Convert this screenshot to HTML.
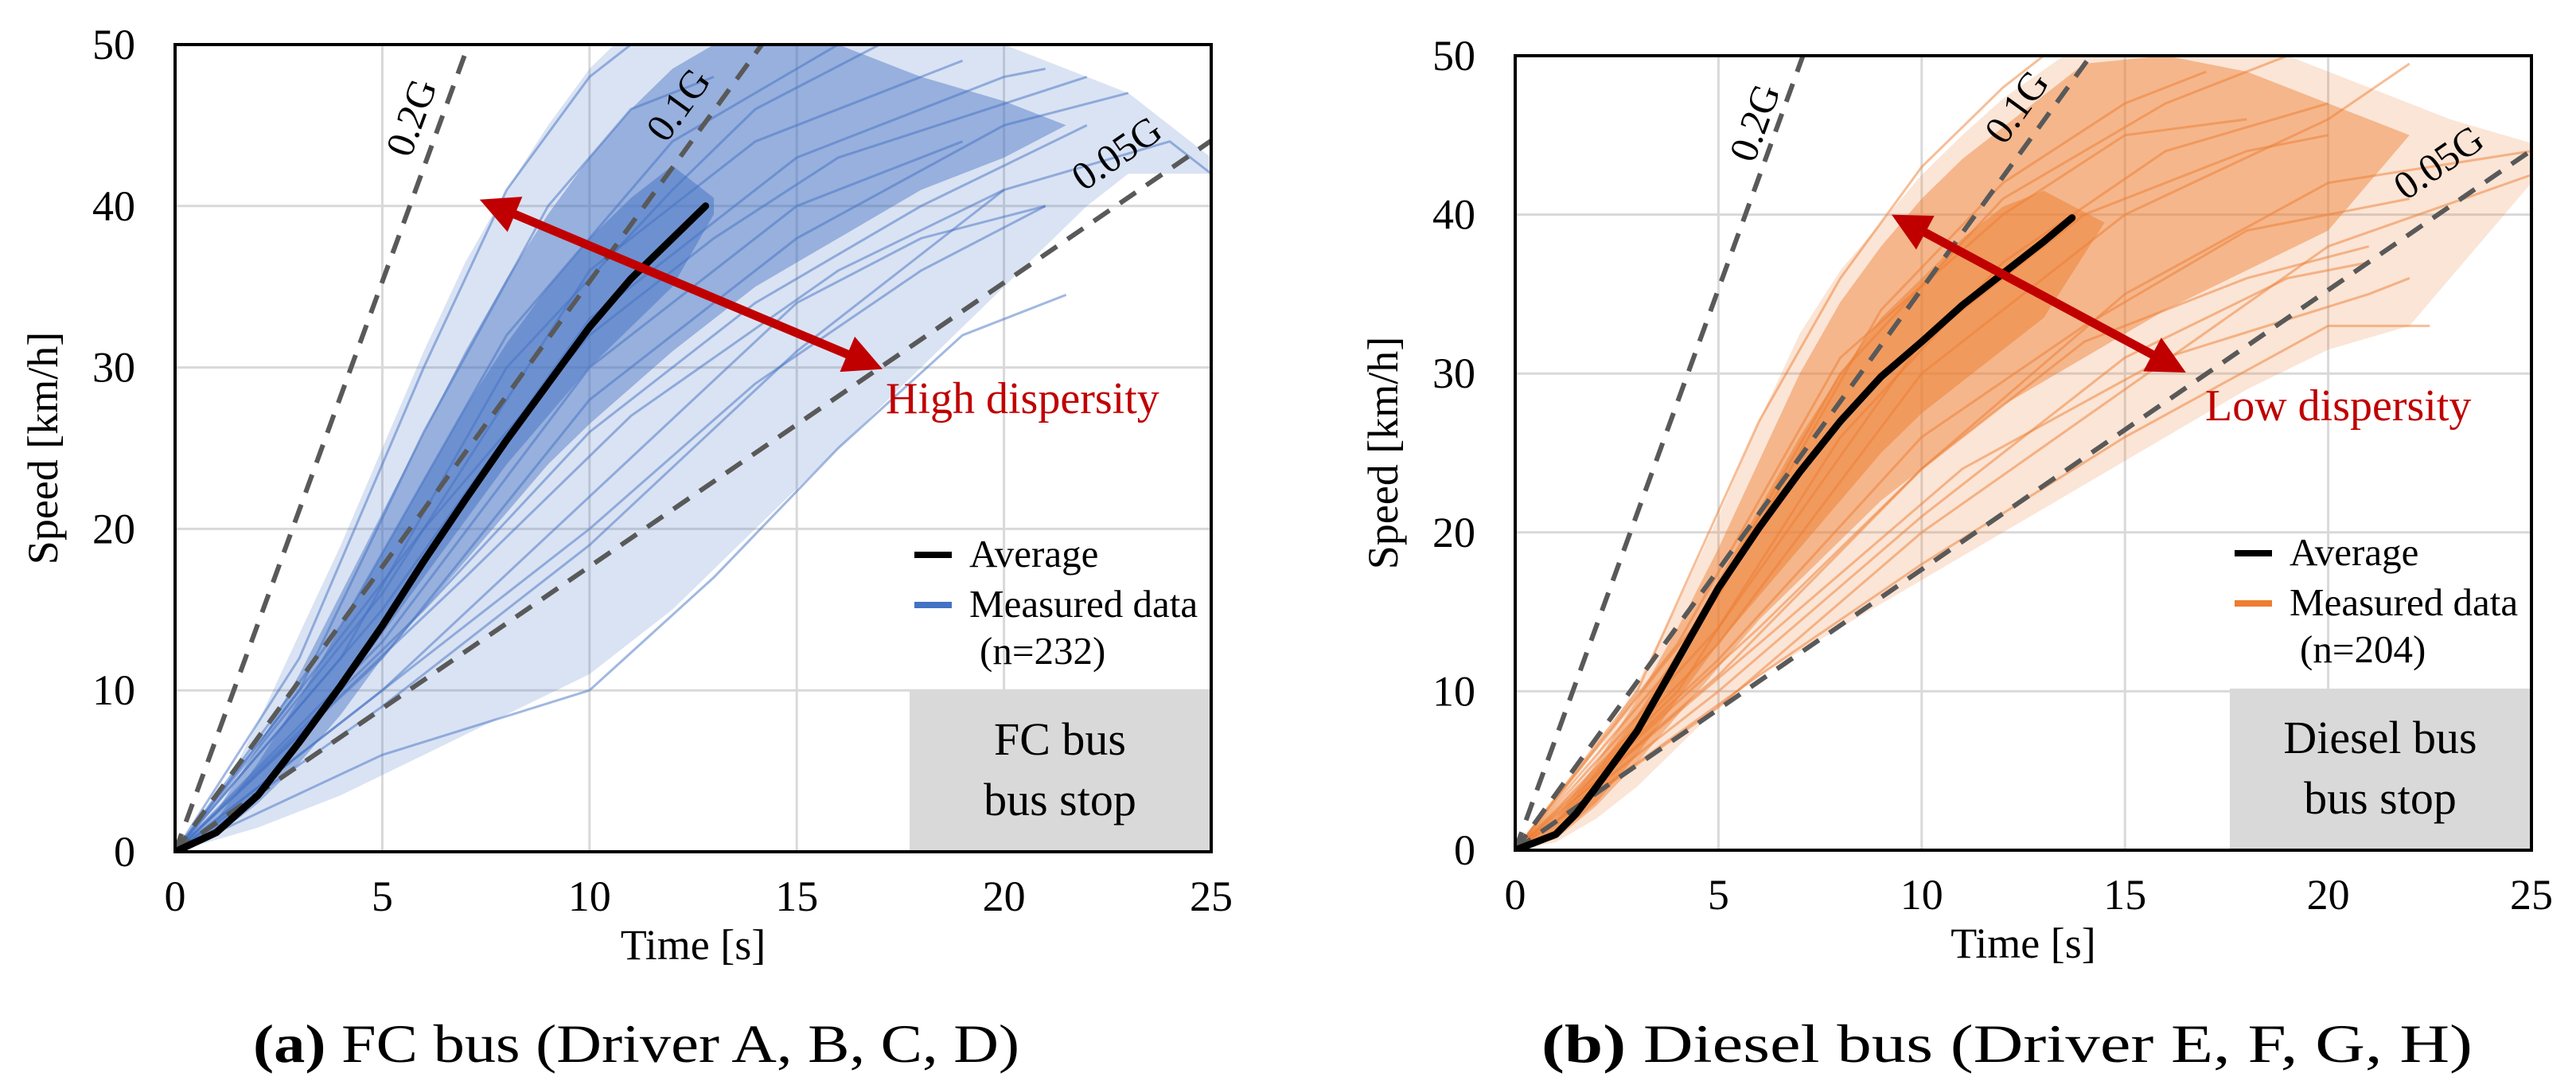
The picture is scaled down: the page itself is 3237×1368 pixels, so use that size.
<!DOCTYPE html>
<html><head><meta charset="utf-8"><style>
html,body{margin:0;padding:0;background:#fff;}
svg{display:block;font-family:"Liberation Serif",serif;}
</style></head><body>
<svg id="fig" width="3237" height="1368" viewBox="0 0 3237 1368" xmlns="http://www.w3.org/2000/svg">
<defs>
<clipPath id="clipA"><rect x="220" y="56" width="1302" height="1014"/></clipPath>
<clipPath id="clipB"><rect x="1904" y="70" width="1277" height="998"/></clipPath>
</defs>
<text x="318" y="1334" font-size="68" font-family="Liberation Serif, serif" textLength="963" lengthAdjust="spacingAndGlyphs"><tspan font-weight="bold">(a)</tspan> FC bus (Driver A, B, C, D)</text>
<text x="1937" y="1334" font-size="68" font-family="Liberation Serif, serif" textLength="1170" lengthAdjust="spacingAndGlyphs"><tspan font-weight="bold">(b)</tspan> Diesel bus (Driver E, F, G, H)</text>
</svg>
<script>
// ---- shared axis ticks ----
const xTicks = [0, 5, 10, 15, 20, 25];
const yTicks = [0, 10, 20, 30, 40, 50];
const gLevels = [0.2, 0.1, 0.05];
const gLabels = ["0.2G", "0.1G", "0.05G"];

// ---- FC bus (left) ----
const fcAvgT = [0,1,2,3,4,5,6,7,8,9,10,11,12,12.8];
const fcAvgV = [0,1.2,3.5,6.8,10.3,14,18,21.8,25.5,29,32.5,35.5,38,40];
const fcOuterUpT = [0,1,2,3,4,5,6,7,8,9,10,10.6,20,23,25];
const fcOuterUpV = [0,3,8,13.5,19,25,31,36.5,41,45,48.5,50,50,47,43];
const fcOuterLoT = [0,2,4,6,8,10,12,14,16,18,20,22,23,25];
const fcOuterLoV = [0,1.5,3.5,6,8.5,11,15,20,25,30,35,40,42,42];
const fcCoreUpT = [0,1,2,3,4,5,6,7,8,9,10,11,12,13,16,18,20,21.5];
const fcCoreUpV = [0,2.5,6.5,11,16,21,26,31,35.5,39.5,43,46,48.5,50,50,48,46.5,45];
const fcCoreLoT = [0,1,2,3,4,5,6,7,8,9,10,12,14,16,18,20,21.5];
const fcCoreLoV = [0,1,3,5.5,8.5,12,15,18,21,24,26.5,31,35,38,41,43,45];
const fcDenseUpT = [0,1,2,3,4,5,6,7,8,9,10,11,12,13];
const fcDenseUpV = [0,2,5.5,9.5,14,18.5,23,27.5,31.5,35,38,40.5,42.5,40.5];
const fcDenseLoT = [0,1,2,3,4,5,6,7,8,9,10,11,12,13];
const fcDenseLoV = [0,1.2,3.5,6.5,10,13.5,17,20.5,24,27,30,32.5,35,39.5];
const fcCurves = [
 [[0,0],[3,12],[6,30],[8,41],[10,48],[11,50]],
 [[0,0],[4,14],[8,32],[12,44],[16,50]],
 [[0,0],[5,15],[10,33],[15,43],[20,48],[21,48.5]],
 [[0,0],[5,12],[10,28],[15,38],[20,45],[23,47]],
 [[0,0],[6,15],[10,26],[14,34],[18,40],[22,45]],
 [[0,0],[6,12],[10,20],[14,29],[18,36],[21,40]],
 [[0,0],[5,6],[10,10],[13,17],[16,25],[19,32],[21.5,34.5]],
 [[0,0],[5,9],[10,19],[15,31],[20,41],[24,44],[25,42]],
 [[0,0],[4,12],[8,30],[12,41],[14,46],[17,50]],
 [[0,0],[5,16],[10,36],[14,44],[19,49]],
 [[0,0],[5,13],[10,30],[15,40],[19,44]],
 [[0,0],[5,10],[10,22],[15,34],[18,38],[21,40]],
 [[0,0],[3,10],[6,26],[9,40],[11,46],[13,48]],
 [[0,0],[6,20],[10,32],[13,38],[16,43],[22,48]],
 [[0,0],[7,17],[11,27],[16,36],[20,41]]
];
const fcArrow = [[7.35,40.4],[17.07,29.9]];

// ---- Diesel bus (right) ----
const dsAvgT = [0,1,1.5,2,3,4,5,6,7,8,9,10,11,12,13,13.7];
const dsAvgV = [0,1,2.3,4,7.5,12,16.5,20.3,23.8,27,29.8,32,34.3,36.3,38.3,39.8];
const dsOuterUpT = [0,1,2,3,4,5,6,7,8,9,10,11,12,13.5,19,21,23,25];
const dsOuterUpV = [0,2.5,6,10.5,15.5,21,27,32.5,36.5,39.5,42.5,45,47.3,50,50,48,46,44.5];
const dsOuterLoT = [0,1,2,3,4,5,6,8,10,12,14,16,18,20,22,25];
const dsOuterLoV = [0,0.5,2,4,6.5,9,11,14,17,20,23,26,29,31.5,33,42];
const dsCoreUpT = [0,1,2,3,4,5,6,7,8,9,10,11,12,13,14,16,18,20,22];
const dsCoreUpV = [0,2,5.5,9.5,14,19,24.5,30,34.5,38,41,43.5,45.5,47.5,49.5,50,49,47,45];
const dsCoreLoT = [0,1,2,3,4,5,6,7,8,9,10,12,14,16,18,20,22];
const dsCoreLoV = [0,0.7,2.8,5.5,8.5,11.5,14.5,17,19.5,22,24,28,31,34,36.5,39,45];
const dsDenseUpT = [0,1,2,3,4,5,6,7,8,9,10,11,12,13,14.5];
const dsDenseUpV = [0,1.8,5,8.5,12.5,17,21.5,26,30,33.5,36,38.5,40.5,41.5,39.5];
const dsDenseLoT = [0,1,2,3,4,5,6,7,8,9,10,11,12,13,14.5];
const dsDenseLoV = [0,0.8,3,6,9.5,13,16,19,22,25,27.5,29.5,31.5,33.5,39.5];
const dsCurves = [
 [[0,0],[3,10],[6,27],[8,36],[10,43],[12,48],[13,50]],
 [[0,0],[4,12],[8,30],[12,41],[16,47],[19,50]],
 [[0,0],[5,13],[10,30],[15,40],[20,46],[22,49.5]],
 [[0,0],[5,11],[10,24],[15,35],[20,42],[25,44]],
 [[0,0],[5,9],[10,20],[15,29],[20,38],[25,42.5]],
 [[0,0],[6,11],[10,18],[15,26],[20,33],[22.5,33]],
 [[0,0],[5,10],[10,21],[15,31],[19,36],[21,37]],
 [[0,0],[4,13],[8,31],[12,40],[15,45],[18,46]],
 [[0,0],[5,14],[10,32],[14,40],[18,44],[20,45]],
 [[0,0],[6,14],[10,24],[14,32],[18,36],[21,38]],
 [[0,0],[4,10],[8,26],[12,37],[16,44],[20,47]],
 [[0,0],[5,16],[9,34],[12,42],[15,47],[17,49]],
 [[0,0],[6,13],[11,24],[16,31],[21,35],[22,36]],
 [[0,0],[5,12],[10,26],[14,33],[18,39],[22,41]]
];
const dsArrow = [[9.26,40],[16.5,30.06]];

const NS = "http://www.w3.org/2000/svg";
const svg = document.getElementById("fig");
function mk(tag, attrs, parent){
  const e = document.createElementNS(NS, tag);
  for (const k in attrs) e.setAttribute(k, attrs[k]);
  (parent||svg).appendChild(e);
  return e;
}

function drawChart(cfg){
  const g = mk("g", {});
  
  
  const X = t => cfg.x0 + (t/25)*(cfg.x1-cfg.x0);
  const Y = v => cfg.y1 - (v/50)*(cfg.y1-cfg.y0);
  xTicks.slice(1,-1).forEach(t=>{
    const l = mk("line",{x1:X(t),x2:X(t),y1:cfg.y0,y2:cfg.y1,stroke:"#d9d9d9","stroke-width":3},g);
    
    
  });
  yTicks.slice(1,-1).forEach(v=>{
    const l = mk("line",{x1:cfg.x0,x2:cfg.x1,y1:Y(v),y2:Y(v),stroke:"#d9d9d9","stroke-width":3},g);
    
    
  });
  const pg = mk("g",{"clip-path":"url(#"+cfg.clip+")"},g);
  
  
  function band(upT,upV,loT,loV,fill,op,name){
    let pts = upT.map((t,i)=>X(t)+","+Y(upV[i]));
    for(let i=loT.length-1;i>=0;i--) pts.push(X(loT[i])+","+Y(loV[i]));
    const p = mk("polygon",{points:pts.join(" "),fill:fill,"fill-opacity":op,"stroke-linejoin":"round"},pg);
    
    
  }
  band(cfg.outerUpT,cfg.outerUpV,cfg.outerLoT,cfg.outerLoV,cfg.color,0.2,'measured-outer-band');
  cfg.curves.forEach(c=>{
    const p = mk("polyline",{points:c.map(q=>X(q[0])+","+Y(q[1])).join(" "),fill:"none",stroke:cfg.color,"stroke-opacity":0.5,"stroke-width":3},pg);
    
    
  });
  band(cfg.coreUpT,cfg.coreUpV,cfg.coreLoT,cfg.coreLoV,cfg.color,0.45,'measured-core-band');
  band(cfg.denseUpT,cfg.denseUpV,cfg.denseLoT,cfg.denseLoV,cfg.color,0.5,'measured-dense-band');
  gLevels.forEach((gl,i)=>{
    const slope = gl*9.81*3.6;
    let pts;
    if (gl===0.05) pts = [[0,0],[2,3.6],[25,25*slope-0.1]];
    else pts = [[0,0],[50/slope,50]];
    const p = mk("polyline",{points:pts.map(q=>X(q[0])+","+Y(q[1])).join(" "),fill:"none",stroke:"#595959","stroke-width":6,"stroke-dasharray":"24 16"},pg);
    
    
    const lp = cfg.gLab[i];
    const ang = -Math.atan(slope*(cfg.y1-cfg.y0)/50/((cfg.x1-cfg.x0)/25))*180/Math.PI;
    const tx = mk("text",{x:X(lp[0]),y:Y(lp[1]),"font-size":50,"text-anchor":"middle",transform:"rotate("+ang+" "+X(lp[0])+" "+Y(lp[1])+")"},g);
    tx.textContent = gLabels[i];
    
    
  });
  const av = mk("polyline",{points:cfg.avgT.map((t,i)=>X(t)+","+Y(cfg.avgV[i])).join(" "),fill:"none",stroke:"#000","stroke-width":9,"stroke-linejoin":"round","stroke-linecap":"round"},pg);
  
  
  const a = cfg.arrow, ax1=X(a[0][0]), ay1=Y(a[0][1]), ax2=X(a[1][0]), ay2=Y(a[1][1]);
  const dx=ax2-ax1, dy=ay2-ay1, L=Math.hypot(dx,dy), ux=dx/L, uy=dy/L, hl=48, hw=24;
  const ag = mk("g",{},g);
  
  
  mk("line",{x1:ax1+ux*hl*0.8,y1:ay1+uy*hl*0.8,x2:ax2-ux*hl*0.8,y2:ay2-uy*hl*0.8,stroke:"#c00000","stroke-width":11},ag);
  mk("polygon",{points:[ax1,ay1, ax1+ux*hl-uy*hw, ay1+uy*hl+ux*hw, ax1+ux*hl+uy*hw, ay1+uy*hl-ux*hw].join(","),fill:"#c00000"},ag);
  mk("polygon",{points:[ax2,ay2, ax2-ux*hl-uy*hw, ay2-uy*hl+ux*hw, ax2-ux*hl+uy*hw, ay2-uy*hl-ux*hw].join(","),fill:"#c00000"},ag);
  const dt = mk("text",{x:cfg.dispX,y:cfg.dispY,"font-size":56,fill:"#c00000"},g);
  dt.textContent = cfg.dispText;
  
  
  const fr = mk("rect",{x:cfg.x0,y:cfg.y0,width:cfg.x1-cfg.x0,height:cfg.y1-cfg.y0,fill:"none",stroke:"#000","stroke-width":4},g);
  
  
  const bx = mk("rect",{x:cfg.x1-379,y:cfg.y1-203,width:377,height:201,fill:"#d9d9d9"},g);
  
  
  cfg.boxLines.forEach((s,i)=>{
    const t = mk("text",{x:cfg.x1-190,y:cfg.y1-122+i*76,"font-size":58,"text-anchor":"middle"},g);
    t.textContent = s;
    
    
  });
  const lg = mk("g",{},g);
  
  
  const lx = cfg.x1-373;
  mk("line",{x1:lx,x2:lx+47,y1:cfg.y1-373,y2:cfg.y1-373,stroke:"#000","stroke-width":8},lg);
  mk("line",{x1:lx,x2:lx+47,y1:cfg.y1-310,y2:cfg.y1-310,stroke:cfg.legendColor,"stroke-width":8},lg);
  const t1 = mk("text",{x:lx+69,y:cfg.y1-358,"font-size":49},lg); t1.textContent="Average";
  
  
  const t2 = mk("text",{x:lx+69,y:cfg.y1-295,"font-size":49},lg); t2.textContent="Measured data";
  
  
  const t3 = mk("text",{x:lx+82,y:cfg.y1-236,"font-size":49},lg); t3.textContent=cfg.nText;
  
  
  xTicks.forEach(t=>{
    const e = mk("text",{x:X(t),y:cfg.y1+74,"font-size":54,"text-anchor":"middle"},g);
    e.textContent = t;
    
    
  });
  yTicks.forEach(v=>{
    const e = mk("text",{x:cfg.x0-50,y:Y(v)+18,"font-size":54,"text-anchor":"end"},g);
    e.textContent = v;
    
    
  });
  const xt = mk("text",{x:(cfg.x0+cfg.x1)/2,y:cfg.y1+135,"font-size":54,"text-anchor":"middle"},g);
  xt.textContent = "Time [s]";
  
  
  const yx = cfg.x0-148, yy=(cfg.y0+cfg.y1)/2;
  const yt = mk("text",{x:yx,y:yy,"font-size":54,"text-anchor":"middle",transform:"rotate(-90 "+yx+" "+yy+")"},g);
  yt.textContent = "Speed [km/h]";
  
  
}

drawChart({id:"fc-bus",x0:220,x1:1522,y0:56,y1:1070,clip:"clipA",color:"#4472c4",legendColor:"#4472c4",
  avgT:fcAvgT,avgV:fcAvgV,outerUpT:fcOuterUpT,outerUpV:fcOuterUpV,outerLoT:fcOuterLoT,outerLoV:fcOuterLoV,
  coreUpT:fcCoreUpT,coreUpV:fcCoreUpV,coreLoT:fcCoreLoT,coreLoV:fcCoreLoV,
  denseUpT:fcDenseUpT,denseUpV:fcDenseUpV,denseLoT:fcDenseLoT,denseLoV:fcDenseLoV,curves:fcCurves,arrow:fcArrow,
  gLab:[[6.0,45.2],[12.4,45.8],[22.9,42.6]],dispX:1113,dispY:519,dispText:"High dispersity",
  boxLines:["FC bus","bus stop"],nText:"(n=232)"});
drawChart({id:"diesel-bus",x0:1904,x1:3181,y0:70,y1:1068,clip:"clipB",color:"#ed7d31",legendColor:"#ed7d31",
  avgT:dsAvgT,avgV:dsAvgV,outerUpT:dsOuterUpT,outerUpV:dsOuterUpV,outerLoT:dsOuterLoT,outerLoV:dsOuterLoV,
  coreUpT:dsCoreUpT,coreUpV:dsCoreUpV,coreLoT:dsCoreLoT,coreLoV:dsCoreLoV,
  denseUpT:dsDenseUpT,denseUpV:dsDenseUpV,denseLoT:dsDenseLoT,denseLoV:dsDenseLoV,curves:dsCurves,arrow:dsArrow,
  gLab:[[6.2,45.5],[12.6,46.3],[22.9,42.6]],dispX:2771,dispY:528,dispText:"Low dispersity",
  boxLines:["Diesel bus","bus stop"],nText:"(n=204)"});
</script>
</body></html>
